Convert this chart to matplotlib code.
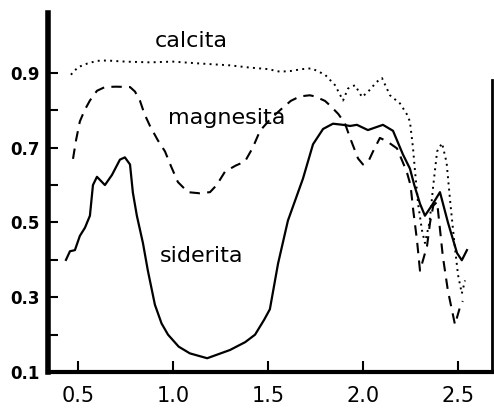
import numpy as np
import matplotlib
matplotlib.use("Agg")
import matplotlib.pyplot as plt

# wavelength (um) / reflectance
calcita_w = [0.463, 0.50, 0.55, 0.60, 0.65, 0.75, 0.88, 1.00, 1.14, 1.30, 1.405, 1.50,
             1.563, 1.62, 1.68, 1.73, 1.80, 1.853, 1.895, 1.921, 1.958, 1.995, 2.037,
             2.07, 2.10, 2.142, 2.195, 2.23, 2.247, 2.263, 2.274, 2.29, 2.31, 2.326,
             2.35, 2.37, 2.39, 2.416, 2.44, 2.46, 2.48, 2.50, 2.52, 2.537]
calcita_r = [0.895, 0.915, 0.925, 0.932, 0.933, 0.930, 0.928, 0.930, 0.925, 0.920, 0.914, 0.910,
             0.903, 0.905, 0.910, 0.912, 0.895, 0.867, 0.826, 0.858, 0.867, 0.835, 0.855,
             0.875, 0.886, 0.840, 0.818, 0.790, 0.770, 0.700, 0.636, 0.550, 0.480, 0.445,
             0.500, 0.600, 0.690, 0.712, 0.660, 0.550, 0.450, 0.360, 0.310, 0.345]

magnesita_w = [0.474, 0.49, 0.51, 0.535, 0.563, 0.60, 0.642, 0.70, 0.774, 0.80, 0.826, 0.85,
               0.879, 0.92, 0.958, 0.99, 1.026, 1.079, 1.14, 1.195, 1.23, 1.274, 1.33,
               1.379, 1.42, 1.458, 1.51, 1.563, 1.62, 1.668, 1.72, 1.747, 1.80, 1.826,
               1.87, 1.905, 1.932, 1.974, 2.00, 2.03, 2.053, 2.089, 2.126, 2.179, 2.23,
               2.25, 2.265, 2.284, 2.30, 2.337, 2.353, 2.37, 2.39, 2.42, 2.447, 2.484,
               2.51, 2.525]
magnesita_r = [0.670, 0.720, 0.770, 0.800, 0.826, 0.852, 0.862, 0.863, 0.862, 0.850, 0.826, 0.790,
               0.758, 0.720, 0.690, 0.650, 0.608, 0.581, 0.578, 0.581, 0.600, 0.636, 0.652,
               0.663, 0.700, 0.745, 0.775, 0.800, 0.825, 0.837, 0.840, 0.837, 0.825, 0.813,
               0.790, 0.765, 0.726, 0.671, 0.655, 0.665, 0.690, 0.726, 0.717, 0.698, 0.636,
               0.600, 0.530, 0.453, 0.371, 0.437, 0.500, 0.545, 0.555, 0.410, 0.317, 0.227,
               0.273, 0.290]

siderita_w = [0.437, 0.458, 0.484, 0.51, 0.537, 0.563, 0.579, 0.60, 0.642, 0.679, 0.721, 0.747,
              0.774, 0.789, 0.81, 0.842, 0.868, 0.905, 0.94, 0.974, 1.03, 1.089, 1.18, 1.30,
              1.38, 1.432, 1.48, 1.51, 1.553, 1.605, 1.684, 1.737, 1.79, 1.842, 1.895,
              1.932, 1.968, 2.026, 2.105, 2.158, 2.21, 2.247, 2.27, 2.30, 2.326, 2.363,
              2.405, 2.447, 2.495, 2.52, 2.547]
siderita_r = [0.400, 0.423, 0.426, 0.464, 0.486, 0.518, 0.600, 0.622, 0.600, 0.627, 0.668, 0.674,
              0.655, 0.580, 0.518, 0.445, 0.371, 0.280, 0.230, 0.200, 0.168, 0.150, 0.137, 0.159,
              0.180, 0.200, 0.240, 0.268, 0.390, 0.505, 0.617, 0.709, 0.750, 0.764, 0.761,
              0.758, 0.761, 0.747, 0.761, 0.745, 0.682, 0.644, 0.600, 0.550, 0.518, 0.546,
              0.581, 0.500, 0.418, 0.399, 0.426]

xticks = [0.5, 1.0, 1.5, 2.0, 2.5]
xtick_labels = ["0.5", "1.0", "1.5", "2.0", "2.5"]
yticks = [0.1, 0.2, 0.3, 0.4, 0.5, 0.6, 0.7, 0.8, 0.9]
ytick_labels = ["0.1", "", "0.3", "", "0.5", "", "0.7", "", "0.9"]

fig = plt.figure(figsize=(4.94, 4.19), dpi=100)
ax = fig.add_axes([0.097, 0.112, 0.899, 0.857])

ax.plot(calcita_w, calcita_r, color="black", lw=1.4, linestyle=(0, (1, 2.2)))
ax.plot(magnesita_w, magnesita_r, color="black", lw=1.5, linestyle=(0, (5, 3.5)))
ax.plot(siderita_w, siderita_r, color="black", lw=1.6)

ax.text(1.095, 0.985, "calcita", fontsize=16, ha="center", va="center")
ax.text(1.284, 0.78, "magnesita", fontsize=16, ha="center", va="center")
ax.text(1.153, 0.41, "siderita", fontsize=16, ha="center", va="center")

ax.set_xlim(0.342, 2.679)
ax.set_ylim(0.1, 1.06)
ax.set_xticks(xticks)
ax.set_xticklabels(xtick_labels, fontsize=15)
ax.set_yticks(yticks)
ax.set_yticklabels(ytick_labels, fontsize=12, fontweight="bold")
ax.tick_params(axis="x", direction="in", length=8, width=1.5, pad=10)
ax.tick_params(axis="y", direction="in", length=7, width=1.5, pad=6)

ax.spines["top"].set_visible(False)
ax.spines["left"].set_linewidth(4)
ax.spines["bottom"].set_linewidth(3)
ax.spines["right"].set_linewidth(2)
ax.spines["right"].set_bounds(0.1, 0.88)

fig.savefig("out.png", dpi=100)
